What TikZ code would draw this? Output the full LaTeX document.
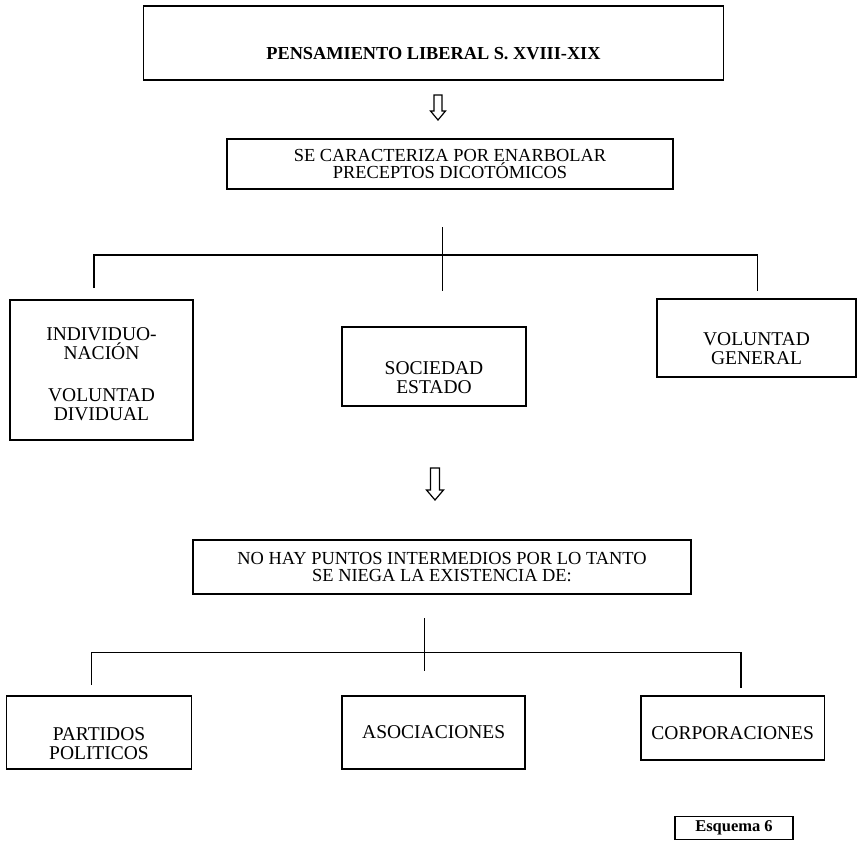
\documentclass[tikz,border=0pt]{standalone}
\usepackage{fontspec}
\setmainfont{Liberation Serif}
\begin{document}
\begin{tikzpicture}[x=1bp,y=-1bp,
  box/.style={draw, line width=1.6bp, inner sep=0pt, align=center},
  conn/.style={line width=1.3bp},
  hollow/.style={line width=1.2bp, line join=miter},
  wide/.style={font=\fontsize{18.4bp}{17.5bp}\selectfont},
  small/.style={font=\fontsize{19.5bp}{19bp}\selectfont},
  inlbl/.style={align=center, font=\fontsize{19.5bp}{19bp}\selectfont},
]
\useasboundingbox (0,0) rectangle (859,849);

% heading
\node[box, minimum width=580bp, minimum height=74bp,
  label={[font=\bfseries\fontsize{18.3bp}{19bp}\selectfont, yshift=-11bp]center:PENSAMIENTO LIBERAL S. XVIII-XIX}]
  (top) at (433.5,43) {};

% hollow arrow below the heading
\coordinate (ar1) at (438,95);
\draw[hollow] (ar1) ++(-4,0) -- ++(0,16) -- ++(-3.5,0) -- ++(7.5,9) -- ++(7.5,-9) -- ++(-3.5,0) -- ++(0,-16) -- cycle;

\node[box, wide, minimum width=446bp, minimum height=50bp] (dico) at (450,164)
  {SE CARACTERIZA POR ENARBOLAR\\PRECEPTOS DICOTÓMICOS};

% first branching
\coordinate (t1a) at (442.6,227);
\coordinate (t1b) at (442.6,291);
\coordinate (t1l) at (94,288);
\coordinate (t1r) at (757.6,255);
\coordinate (t1re) at (757.6,290.5);
\draw[conn] (t1a) -- (t1b);
\draw[conn] (t1l) |- (t1r) -- (t1re);

\node[box, minimum width=183bp, minimum height=140bp,
  label={[inlbl, yshift=-4.5bp]center:{INDIVIDUO-\\NACIÓN\\[23bp]VOLUNTAD\\DIVIDUAL}}]
  (indiv) at (101.5,370) {};

\node[box, minimum width=184bp, minimum height=79bp,
  label={[inlbl, yshift=-11.5bp]center:{SOCIEDAD\\ESTADO}}] (soc) at (434,366.5) {};

\node[box, minimum width=199bp, minimum height=78bp,
  label={[inlbl, yshift=-11bp]center:{VOLUNTAD\\GENERAL}}] (volg) at (756.5,338) {};

% hollow arrow above the second statement
\coordinate (ar2) at (435,468);
\draw[hollow] (ar2) ++(-4.5,0) -- ++(0,22) -- ++(-4,0) -- ++(8.5,10) -- ++(8.5,-10) -- ++(-4,0) -- ++(0,-22) -- cycle;

\node[box, wide, minimum width=498bp, minimum height=54bp] (nohay) at (442,567)
  {NO HAY PUNTOS INTERMEDIOS POR LO TANTO\\SE NIEGA LA EXISTENCIA DE:};

% second branching
\coordinate (t2a) at (424.6,618);
\coordinate (t2b) at (424.6,671);
\coordinate (t2l) at (91.5,685);
\coordinate (t2r) at (741,652.7);
\coordinate (t2re) at (741,688);
\draw[conn] (t2a) -- (t2b);
\draw[conn] (t2l) |- (t2r) -- (t2re);

\node[box, minimum width=185bp, minimum height=73bp,
  label={[inlbl, yshift=-11.5bp]center:{PARTIDOS\\POLITICOS}}] (part) at (99,732.5) {};

\node[box, small, minimum width=183bp, minimum height=73bp] (asoc) at (433.7,732.5) {ASOCIACIONES};

\node[box, minimum width=183.5bp, minimum height=64bp,
  label={[inlbl, yshift=-5bp]center:CORPORACIONES}] (corp) at (732.7,728) {};

\node[box, line width=1.4bp, minimum width=118bp, minimum height=23bp,
  font=\bfseries\fontsize{16.5bp}{18bp}\selectfont] (esq) at (734,828) {Esquema 6};
\end{tikzpicture}
\end{document}
